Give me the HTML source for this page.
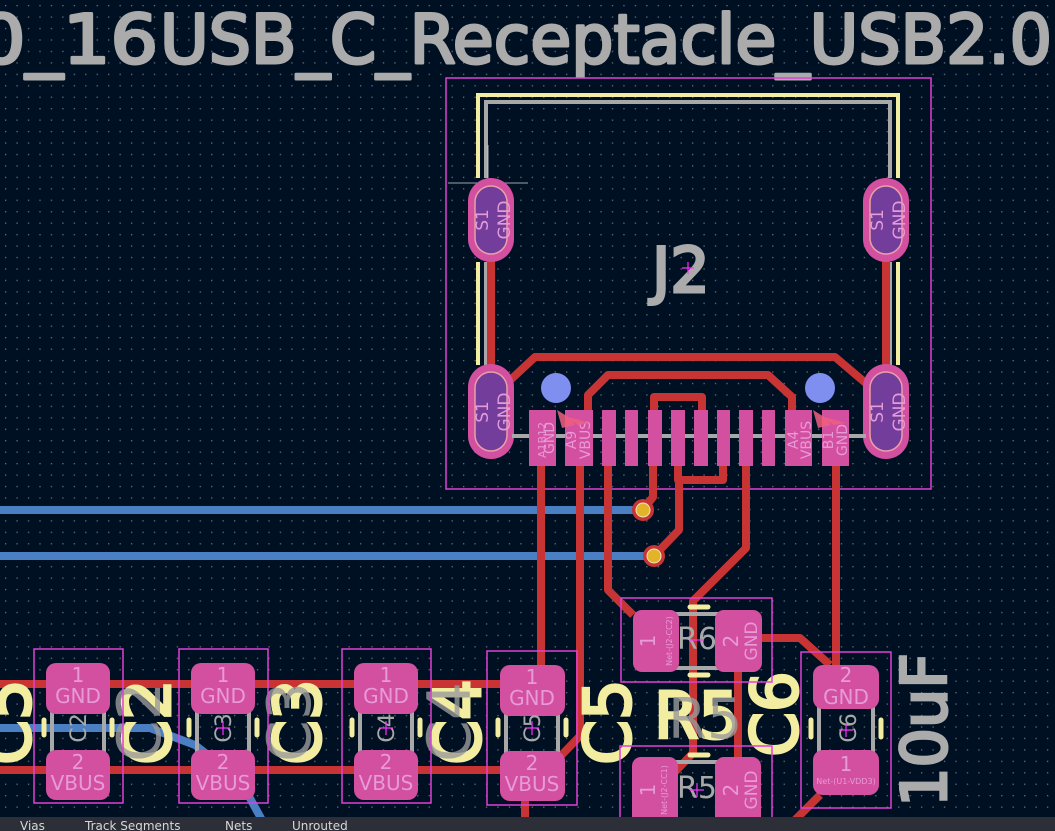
<!DOCTYPE html>
<html><head><meta charset="utf-8"><style>
html,body{margin:0;padding:0;background:#001023;width:1055px;height:831px;overflow:hidden}
svg{display:block}
text{font-family:"DejaVu Sans","Liberation Sans",sans-serif}
</style></head><body>
<svg width="1055" height="831" viewBox="0 0 1055 831" xmlns="http://www.w3.org/2000/svg">
<defs>
<pattern id="g" x="0" y="0" width="11.45" height="11.45" patternUnits="userSpaceOnUse">
<rect x="5" y="5" width="1.3" height="1.3" fill="#6a6f78"/>
</pattern>
</defs>
<rect width="1055" height="831" fill="#001023"/>
<rect width="1055" height="831" fill="url(#g)"/>

<!-- Top text -->
<g fill="#ababab" stroke="#ababab" stroke-width="3" stroke-linejoin="round" font-size="68">
<text x="-22" y="63" textLength="180" lengthAdjust="spacingAndGlyphs">0_16</text>
<text x="160" y="63" textLength="892" lengthAdjust="spacingAndGlyphs">USB_C_Receptacle_USB2.0</text>
</g>

<!-- blue tracks -->
<g stroke="#4a7fc4" stroke-width="8" fill="none">
<line x1="0" y1="510" x2="643" y2="510"/>
<line x1="0" y1="556" x2="654" y2="556"/>
<polyline points="0,728 150,728 195,745 240,780 268,831"/>
</g>

<!-- J2 courtyard -->
<rect x="446" y="78" width="485" height="411" fill="none" stroke="#e040d8" stroke-width="1.5"/>
<g fill="none" stroke-width="4">
<path d="M478,178 V95 H898 V178" stroke="#f2eda1"/>
<path d="M486,178 V102 H890 V178" stroke="#a8a8a8"/>
<path d="M478,262 V365 M898,262 V365" stroke="#f2eda1"/>
<path d="M486,262 V365 M890,262 V365" stroke="#a8a8a8"/>
</g>
<line x1="448" y1="183" x2="528" y2="183" stroke="#cfd4dc" stroke-width="0.8"/>
<line x1="488" y1="145" x2="488" y2="225" stroke="#cfd4dc" stroke-width="0.8"/>

<!-- red tracks -->
<g stroke="#c83434" stroke-width="8" fill="none" stroke-linejoin="round">
<line x1="491" y1="260" x2="491" y2="365"/>
<line x1="886" y1="260" x2="886" y2="365"/>
<polyline points="505,385 535,357 835,357 868,385"/>
<polyline points="588,430 588,395 608,375 768,375 792,397 792,415"/>
<polyline points="654,415 654,397 702,397 702,415"/>
<polyline points="678,460 678,480 723,480 723,460"/>
<polyline points="679,480 679,530 654,556"/>
<polyline points="653,460 653,497 643,510"/>
<polyline points="541,466 541,668"/>
<polyline points="580,466 580,736 552,765"/>
<polyline points="608,466 608,590 633,615"/>
<polyline points="746,466 746,548 693,601 693,753 672,775"/>
<polyline points="836,466 836,668"/>
<polyline points="738,672 738,757"/>
<polyline points="762,638 800,638 830,665"/>
<polyline points="820,795 795,820"/>
<line x1="0" y1="684" x2="530" y2="684"/>
<line x1="0" y1="770" x2="530" y2="770"/>
<line x1="525" y1="795" x2="525" y2="817"/>
</g>

<!-- oval pads -->
<g>
<rect x="468" y="178" width="46" height="84" rx="23" fill="#d34fa0"/>
<rect x="475" y="186" width="32" height="68" rx="16" fill="#733d9c" stroke="#e8a0a8" stroke-width="1.5"/>
<rect x="863" y="178" width="46" height="84" rx="23" fill="#d34fa0"/>
<rect x="870" y="186" width="32" height="68" rx="16" fill="#733d9c" stroke="#e8a0a8" stroke-width="1.5"/>
<rect x="468" y="364" width="46" height="95" rx="23" fill="#d34fa0"/>
<rect x="475" y="372" width="32" height="79" rx="16" fill="#733d9c" stroke="#e8a0a8" stroke-width="1.5"/>
<rect x="863" y="364" width="46" height="95" rx="23" fill="#d34fa0"/>
<rect x="870" y="372" width="32" height="79" rx="16" fill="#733d9c" stroke="#e8a0a8" stroke-width="1.5"/>
</g>
<g fill="#e79ad8" font-size="17">
<text transform="translate(488,220) rotate(-90)" text-anchor="middle">S1</text>
<text transform="translate(510,220) rotate(-90)" text-anchor="middle">GND</text>
<text transform="translate(883,220) rotate(-90)" text-anchor="middle">S1</text>
<text transform="translate(905,220) rotate(-90)" text-anchor="middle">GND</text>
<text transform="translate(488,412) rotate(-90)" text-anchor="middle">S1</text>
<text transform="translate(510,412) rotate(-90)" text-anchor="middle">GND</text>
<text transform="translate(883,412) rotate(-90)" text-anchor="middle">S1</text>
<text transform="translate(905,412) rotate(-90)" text-anchor="middle">GND</text>
</g>

<circle cx="556" cy="388" r="15" fill="#7f8ff0"/>
<circle cx="820" cy="388" r="15" fill="#7f8ff0"/>

<line x1="512" y1="436" x2="866" y2="436" stroke="#a8a8a8" stroke-width="4"/>
<g fill="#d34fa0">
<rect x="529" y="410" width="27" height="56"/>
<rect x="565" y="410" width="28" height="56"/>
<rect x="602" y="410" width="14" height="56"/>
<rect x="625" y="410" width="13" height="56"/>
<rect x="648" y="410" width="14" height="56"/>
<rect x="671" y="410" width="14" height="56"/>
<rect x="694" y="410" width="14" height="56"/>
<rect x="717" y="410" width="13" height="56"/>
<rect x="739" y="410" width="14" height="56"/>
<rect x="762" y="410" width="13" height="56"/>
<rect x="785" y="410" width="27" height="56"/>
<rect x="822" y="410" width="27" height="56"/>
</g>
<g fill="#e79ad8" font-size="12">
<text transform="translate(546,440) rotate(-90)" text-anchor="middle" font-size="11">A1B12</text>
<text transform="translate(554,438) rotate(-90)" text-anchor="middle" font-size="14">GND</text>
<text transform="translate(576,440) rotate(-90)" text-anchor="middle" font-size="14">A9</text>
<text transform="translate(590,440) rotate(-90)" text-anchor="middle" font-size="14">VBUS</text>
<text transform="translate(798,440) rotate(-90)" text-anchor="middle" font-size="14">A4</text>
<text transform="translate(811,440) rotate(-90)" text-anchor="middle" font-size="14">VBUS</text>
<text transform="translate(833,440) rotate(-90)" text-anchor="middle" font-size="14">B1</text>
<text transform="translate(847,440) rotate(-90)" text-anchor="middle" font-size="14">GND</text>
</g>
<g fill="#f06080" opacity="0.85">
<polygon points="557,410 570,418 575,425 562,428"/>
<polygon points="565,416 585,430 578,425 590,423"/>
<polygon points="813,410 826,418 831,425 818,428"/>
<polygon points="821,416 841,430 834,425 846,423"/>
</g>

<circle cx="643" cy="510" r="11" fill="#c83434"/><circle cx="643" cy="510" r="7" fill="#e2b42a" stroke="#f3e6c0" stroke-width="1"/>
<circle cx="654" cy="556" r="11" fill="#c83434"/><circle cx="654" cy="556" r="7" fill="#e2b42a" stroke="#f3e6c0" stroke-width="1"/>

<text x="652" y="292" fill="#ababab" stroke="#ababab" stroke-width="3" font-size="62">J2</text>
<path d="M682,268 H694 M688,262 V274" stroke="#ff30ff" stroke-width="1.2"/>

<g fill="#f2eda1" stroke="#f2eda1" stroke-width="3" font-size="64">
<text transform="translate(30,722) rotate(-90)" text-anchor="middle">C5</text>
<text transform="translate(170,722) rotate(-90)" text-anchor="middle">C2</text>
<text transform="translate(320,722) rotate(-90)" text-anchor="middle">C3</text>
<text transform="translate(480,722) rotate(-90)" text-anchor="middle">C4</text>
<text transform="translate(630,722) rotate(-90)" text-anchor="middle">C5</text>
<text x="654" y="738">R5</text>
<text transform="translate(797,714) rotate(-90)" text-anchor="middle">C6</text>
</g>
<g fill="#9a9a9a" font-size="60" opacity="0.8">
<text transform="translate(160,722) rotate(-90)" text-anchor="middle">C2</text>
<text transform="translate(310,722) rotate(-90)" text-anchor="middle">C3</text>
<text transform="translate(470,722) rotate(-90)" text-anchor="middle">C4</text>
<text x="668" y="738" font-size="56">R5</text>
</g>
<text transform="translate(946,730) rotate(-90)" text-anchor="middle" fill="#ababab" stroke="#ababab" stroke-width="3" font-size="62">10uF</text>

<g>
<g fill="none" stroke="#e040d8" stroke-width="1.5">
<rect x="34" y="649" width="89" height="154"/>
<rect x="179" y="649" width="89" height="154"/>
<rect x="342" y="649" width="89" height="154"/>
<rect x="487" y="651" width="90" height="154"/>
<rect x="621" y="598" width="151" height="84"/>
<rect x="620" y="746" width="152" height="90"/>
<rect x="801" y="652" width="90" height="156"/>
</g>
<g fill="none" stroke="#a8a8a8" stroke-width="4">
<rect x="52" y="700" width="52" height="55"/>
<rect x="197" y="700" width="52" height="55"/>
<rect x="360" y="700" width="52" height="55"/>
<rect x="506" y="700" width="52" height="55"/>
<rect x="819" y="700" width="54" height="55"/>
<rect x="665" y="614" width="64" height="54"/>
<rect x="665" y="762" width="64" height="60"/>
</g>
<g stroke="#f2eda1" stroke-width="5" stroke-linecap="round">
<line x1="44" y1="720" x2="44" y2="735"/><line x1="112" y1="720" x2="112" y2="735"/>
<line x1="189" y1="720" x2="189" y2="735"/><line x1="257" y1="720" x2="257" y2="735"/>
<line x1="352" y1="720" x2="352" y2="735"/><line x1="420" y1="720" x2="420" y2="735"/>
<line x1="498" y1="720" x2="498" y2="735"/><line x1="566" y1="720" x2="566" y2="735"/>
<line x1="811" y1="720" x2="811" y2="737"/><line x1="881" y1="720" x2="881" y2="737"/>
<line x1="690" y1="607" x2="708" y2="607"/><line x1="690" y1="675" x2="708" y2="675"/>
<line x1="690" y1="755" x2="708" y2="755"/>
</g>
<g fill="#d34fa0">
<rect x="46" y="663" width="64" height="51" rx="10"/><rect x="46" y="750" width="64" height="50" rx="10"/>
<rect x="191" y="663" width="64" height="51" rx="10"/><rect x="191" y="750" width="64" height="50" rx="10"/>
<rect x="354" y="663" width="64" height="51" rx="10"/><rect x="354" y="750" width="64" height="50" rx="10"/>
<rect x="500" y="665" width="65" height="51" rx="10"/><rect x="500" y="751" width="65" height="50" rx="10"/>
<rect x="813" y="665" width="66" height="44" rx="10"/><rect x="813" y="750" width="66" height="45" rx="10"/>
<rect x="633" y="610" width="46" height="62" rx="9"/><rect x="715" y="610" width="47" height="62" rx="9"/>
<rect x="632" y="757" width="46" height="70" rx="9"/><rect x="715" y="757" width="46" height="70" rx="9"/>
</g>
<g fill="#e79ad8" font-size="20" text-anchor="middle">
<text x="78" y="682">1</text><text x="78" y="703">GND</text><text x="78" y="769">2</text><text x="78" y="790">VBUS</text>
<text x="223" y="682">1</text><text x="223" y="703">GND</text><text x="223" y="769">2</text><text x="223" y="790">VBUS</text>
<text x="386" y="682">1</text><text x="386" y="703">GND</text><text x="386" y="769">2</text><text x="386" y="790">VBUS</text>
<text x="532" y="684">1</text><text x="532" y="705">GND</text><text x="532" y="770">2</text><text x="532" y="791">VBUS</text>
<text x="846" y="682">2</text><text x="846" y="704">GND</text><text x="846" y="771">1</text>
<text x="846" y="784" font-size="8">Net-(U1-VDD3)</text>
<text transform="translate(655,641) rotate(-90)">1</text>
<text transform="translate(738,641) rotate(-90)">2</text>
<text transform="translate(757,641) rotate(-90)" font-size="17">GND</text>
<text transform="translate(672,641) rotate(-90)" font-size="8">Net-(J2-CC2)</text>
<text transform="translate(655,790) rotate(-90)">1</text>
<text transform="translate(738,790) rotate(-90)">2</text>
<text transform="translate(757,790) rotate(-90)" font-size="17">GND</text>
<text transform="translate(667,790) rotate(-90)" font-size="8">Net-(J2-CC1)</text>
</g>
<g fill="#a8a8a8" font-size="22" text-anchor="middle">
<text transform="translate(86,728) rotate(-90)">C2</text>
<text transform="translate(231,728) rotate(-90)">C3</text>
<text transform="translate(394,728) rotate(-90)">C4</text>
<text transform="translate(540,728) rotate(-90)">C5</text>
<text transform="translate(856,728) rotate(-90)">C6</text>
<text x="697" y="649" font-size="30">R6</text>
<text x="697" y="798" font-size="30">R5</text>
</g>
<g stroke="#ff30ff" stroke-width="1.2">
<path d="M216,728 H230 M223,721 V735"/>
<path d="M379,728 H393 M386,721 V735"/>
<path d="M525,728 H539 M532,721 V735"/>
<path d="M839,730 H853 M846,723 V737"/>
<path d="M690,640 H704"/>
<path d="M690,790 H704 M697,783 V797"/>
</g>
</g>

<rect x="0" y="817" width="1055" height="14" fill="#2c2f38"/>
<g fill="#d8d8d8" font-size="12" font-family="Liberation Sans, sans-serif">
<text x="20" y="830">Vias</text>
<text x="85" y="830">Track Segments</text>
<text x="225" y="830">Nets</text>
<text x="292" y="830">Unrouted</text>
</g>
</svg>
</body></html>
